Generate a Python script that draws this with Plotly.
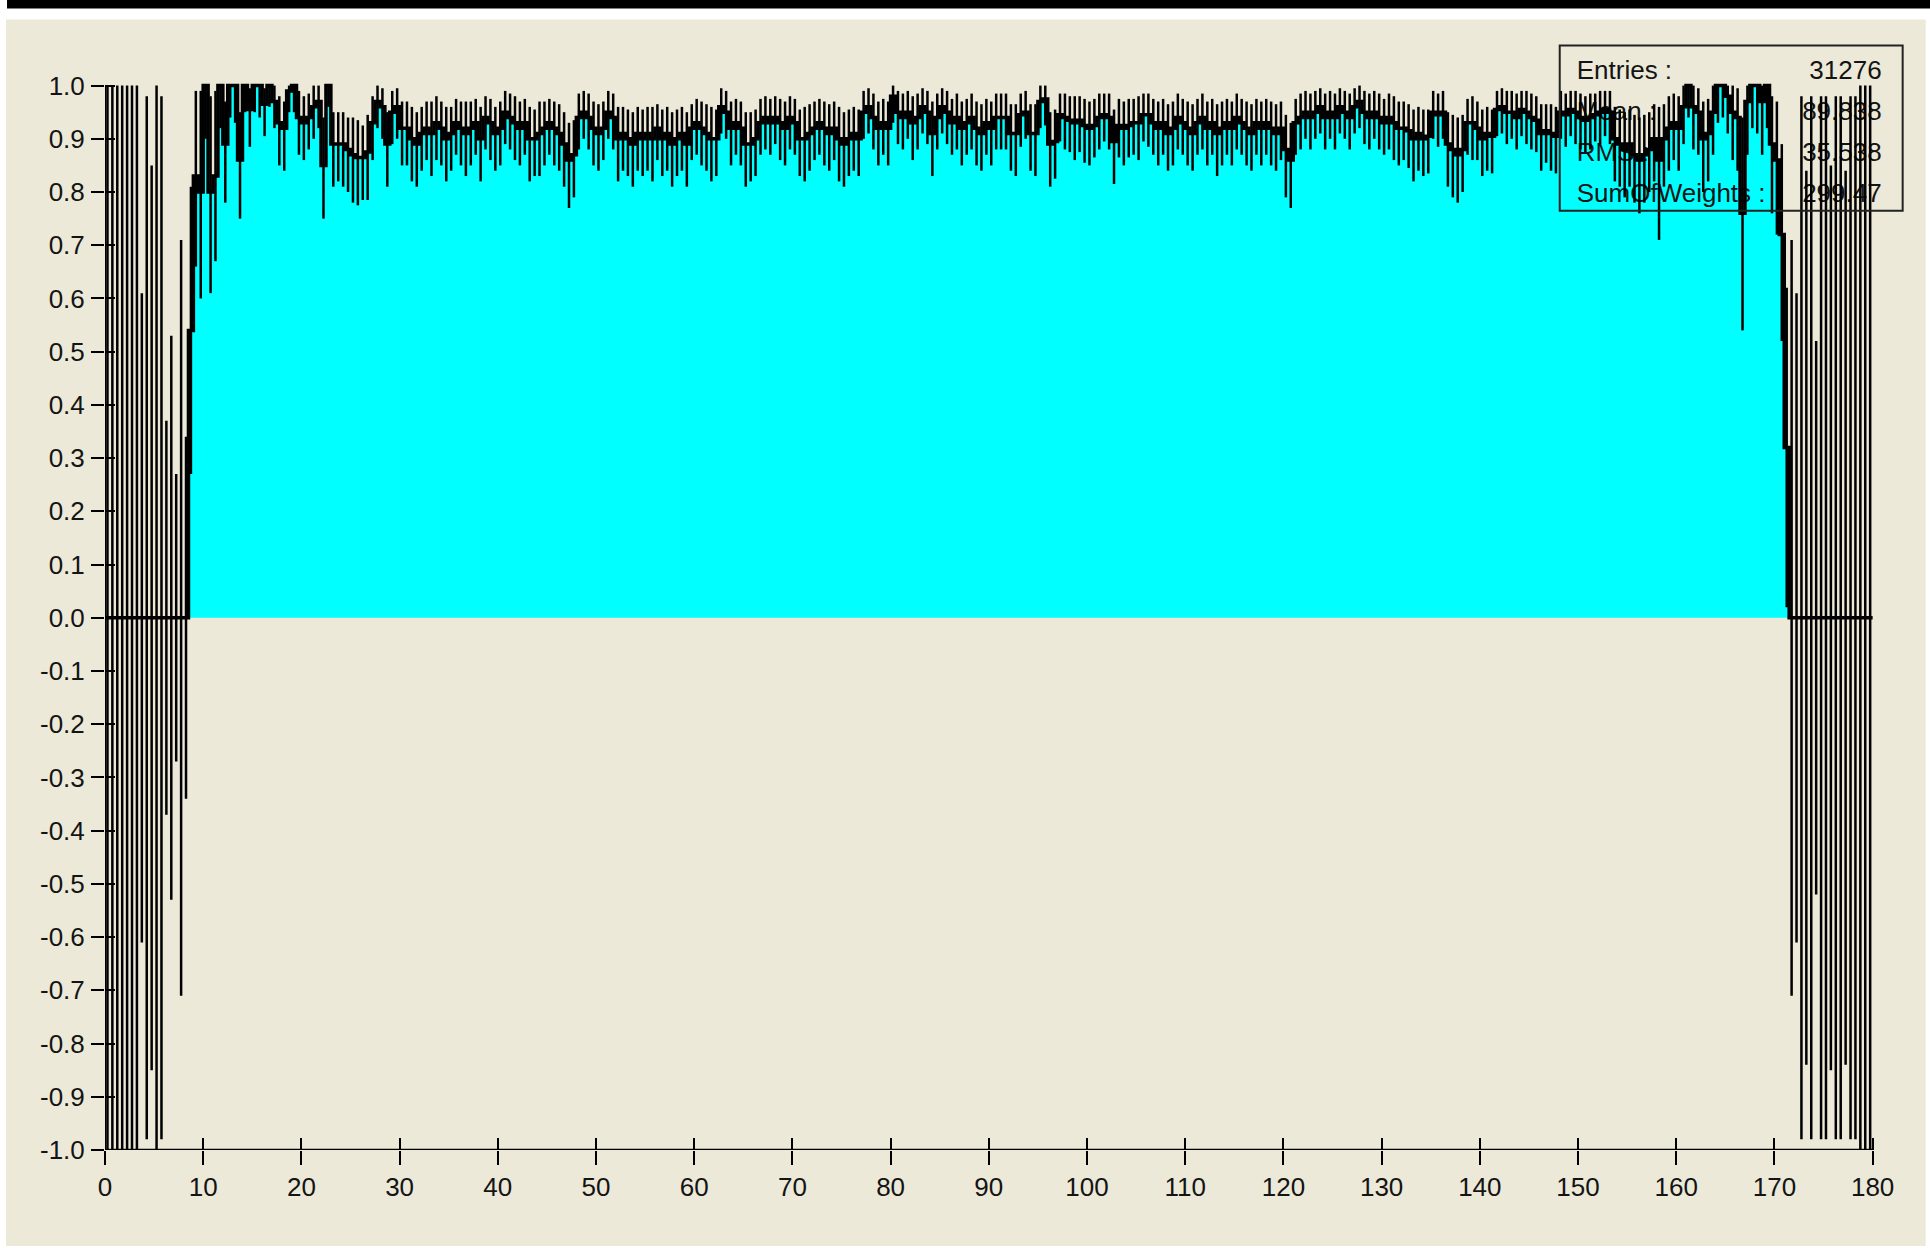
import numpy as np
import plotly.graph_objects as go

# ---------------- data ----------------
n_bins = 360
x_min, x_max = 0.0, 180.0

efficiency = [
    0, 0, 0, 0, 0, 0, 0, 0, 0, 0,
    0, 0, 0, 0, 0, 0, 0, 0.54, 0.83, 0.80,
    1.0, 0.80, 0.83, 1.0, 0.89, 1.0, 1.0, 0.86, 1.0, 0.955,
    1.0, 1.0, 0.965, 1.0, 0.97, 0.93, 0.92, 0.99, 1.0, 0.94,
    0.93, 0.94, 0.96, 0.97, 0.85, 1.0, 0.89, 0.89, 0.89, 0.88,
    0.87, 0.865, 0.865, 0.875, 0.93, 0.97, 0.96, 0.89, 0.95, 0.96,
    0.92, 0.92, 0.90, 0.89, 0.91, 0.92, 0.91, 0.93, 0.92, 0.90,
    0.91, 0.93, 0.92, 0.91, 0.92, 0.93, 0.90, 0.94, 0.93, 0.91,
    0.92, 0.95, 0.94, 0.93, 0.92, 0.93, 0.90, 0.90, 0.91, 0.92,
    0.93, 0.92, 0.91, 0.89, 0.86, 0.87, 0.94, 0.95, 0.94, 0.92,
    0.91, 0.92, 0.95, 0.94, 0.90, 0.91, 0.90, 0.89, 0.91, 0.90,
    0.91, 0.90, 0.92, 0.90, 0.91, 0.89, 0.90, 0.91, 0.89, 0.92,
    0.93, 0.92, 0.91, 0.90, 0.90, 0.96, 0.95, 0.92, 0.93, 0.92,
    0.89, 0.89, 0.90, 0.93, 0.94, 0.93, 0.94, 0.93, 0.92, 0.94,
    0.93, 0.90, 0.90, 0.91, 0.92, 0.93, 0.92, 0.91, 0.92, 0.90,
    0.89, 0.90, 0.91, 0.90, 0.95, 0.96, 0.94, 0.92, 0.93, 0.92,
    0.98, 0.95, 0.94, 0.95, 0.93, 0.94, 0.96, 0.95, 0.91, 0.94,
    0.96, 0.95, 0.93, 0.94, 0.92, 0.93, 0.94, 0.92, 0.91, 0.93,
    0.92, 0.94, 0.94, 0.94, 0.91, 0.91, 0.945, 0.95, 0.91, 0.91,
    0.97, 0.975, 0.89, 0.895, 0.945, 0.94, 0.935, 0.93, 0.935, 0.925,
    0.92, 0.925, 0.94, 0.945, 0.94, 0.895, 0.925, 0.92, 0.925, 0.93,
    0.93, 0.945, 0.945, 0.93, 0.92, 0.93, 0.91, 0.92, 0.94, 0.93,
    0.92, 0.91, 0.93, 0.94, 0.92, 0.93, 0.91, 0.92, 0.93, 0.92,
    0.94, 0.93, 0.92, 0.91, 0.93, 0.92, 0.93, 0.92, 0.91, 0.92,
    0.88, 0.86, 0.93, 0.94, 0.95, 0.94, 0.95, 0.96, 0.94, 0.95,
    0.94, 0.96, 0.95, 0.94, 0.96, 0.97, 0.95, 0.94, 0.95, 0.94,
    0.93, 0.94, 0.93, 0.92, 0.92, 0.915, 0.90, 0.91, 0.90, 0.905,
    0.95, 0.945, 0.95, 0.89, 0.88, 0.87, 0.88, 0.93, 0.93, 0.92,
    0.90, 0.91, 0.905, 0.955, 0.96, 0.95, 0.95, 0.94, 0.955, 0.95,
    0.94, 0.935, 0.91, 0.915, 0.91, 0.905, 0.95, 0.945, 0.955, 0.95,
    0.94, 0.935, 0.94, 0.945, 0.95, 0.955, 0.95, 0.90, 0.89, 0.88,
    0.89, 0.87, 0.86, 0.87, 0.88, 0.90, 0.86, 0.90, 0.92, 0.93,
    0.92, 0.96, 1.0, 0.96, 0.95, 0.90, 0.91, 0.95, 1.0, 1.0,
    0.98, 0.95, 0.94, 0.76, 0.97, 1.0, 1.0, 0.97, 1.0, 0.89,
    0.86, 0.72, 0.32, 0, 0, 0, 0, 0, 0, 0,
    0, 0, 0, 0, 0, 0, 0, 0, 0, 0,
]

err_low = [
    1, 1, 1, 1, 1, 1, 1, 0.61, 0.98, 0.85,
    1.0, 0.98, 0.37, 0.53, 0.27, 0.71, 0.34, 0.27, 0.17, 0.20,
    0.10, 0.19, 0.16, 0.08, 0.11, 0.06, 0.07, 0.11, 0.05, 0.07,
    0.05, 0.06, 0.06, 0.04, 0.05, 0.08, 0.08, 0.04, 0.05, 0.07,
    0.07, 0.06, 0.06, 0.05, 0.10, 0.04, 0.08, 0.07, 0.08, 0.08,
    0.09, 0.09, 0.08, 0.09, 0.07, 0.05, 0.06, 0.08, 0.06, 0.06,
    0.07, 0.07, 0.08, 0.08, 0.07, 0.06, 0.08, 0.07, 0.07, 0.08,
    0.07, 0.06, 0.07, 0.08, 0.07, 0.06, 0.08, 0.06, 0.07, 0.07,
    0.07, 0.06, 0.06, 0.07, 0.07, 0.06, 0.08, 0.07, 0.08, 0.07,
    0.06, 0.07, 0.07, 0.08, 0.09, 0.08, 0.06, 0.05, 0.06, 0.07,
    0.07, 0.06, 0.05, 0.06, 0.08, 0.07, 0.07, 0.08, 0.07, 0.07,
    0.07, 0.08, 0.06, 0.07, 0.07, 0.08, 0.07, 0.07, 0.08, 0.06,
    0.06, 0.07, 0.07, 0.08, 0.07, 0.05, 0.05, 0.07, 0.06, 0.07,
    0.08, 0.07, 0.07, 0.06, 0.06, 0.06, 0.05, 0.07, 0.07, 0.06,
    0.06, 0.07, 0.08, 0.07, 0.06, 0.06, 0.07, 0.07, 0.06, 0.08,
    0.08, 0.07, 0.07, 0.07, 0.05, 0.05, 0.06, 0.07, 0.06, 0.07,
    0.05, 0.06, 0.06, 0.05, 0.07, 0.06, 0.05, 0.06, 0.08, 0.06,
    0.05, 0.06, 0.06, 0.06, 0.07, 0.06, 0.06, 0.07, 0.07, 0.06,
    0.07, 0.06, 0.06, 0.06, 0.07, 0.08, 0.06, 0.05, 0.07, 0.08,
    0.05, 0.05, 0.08, 0.07, 0.05, 0.06, 0.06, 0.07, 0.06, 0.07,
    0.07, 0.06, 0.06, 0.05, 0.06, 0.08, 0.06, 0.07, 0.06, 0.06,
    0.07, 0.05, 0.06, 0.06, 0.07, 0.06, 0.07, 0.07, 0.06, 0.06,
    0.07, 0.07, 0.06, 0.06, 0.07, 0.06, 0.08, 0.07, 0.06, 0.07,
    0.06, 0.06, 0.07, 0.07, 0.06, 0.07, 0.06, 0.07, 0.07, 0.06,
    0.09, 0.09, 0.06, 0.06, 0.05, 0.06, 0.05, 0.05, 0.06, 0.05,
    0.06, 0.05, 0.05, 0.06, 0.05, 0.05, 0.06, 0.06, 0.05, 0.06,
    0.06, 0.06, 0.07, 0.07, 0.06, 0.07, 0.08, 0.07, 0.07, 0.07,
    0.05, 0.06, 0.05, 0.08, 0.09, 0.09, 0.08, 0.06, 0.07, 0.06,
    0.07, 0.07, 0.07, 0.05, 0.05, 0.06, 0.05, 0.06, 0.05, 0.06,
    0.06, 0.06, 0.07, 0.06, 0.07, 0.07, 0.05, 0.06, 0.05, 0.06,
    0.06, 0.06, 0.06, 0.05, 0.06, 0.05, 0.06, 0.08, 0.08, 0.09,
    0.08, 0.09, 0.10, 0.09, 0.08, 0.08, 0.15, 0.09, 0.08, 0.07,
    0.08, 0.07, 0.06, 0.08, 0.08, 0.10, 0.09, 0.08, 0.07, 0.06,
    0.07, 0.09, 0.10, 0.22, 0.10, 0.08, 0.09, 0.10, 0.08, 0.13,
    0.14, 0.20, 0.30, 0.71, 0.61, 0.98, 0.84, 0.98, 0.52, 0.98,
    0.98, 0.85, 0.98, 0.98, 0.84, 0.98, 0.98, 1.0, 1.0, 1.0,
]

err_high = [
    1, 1, 1, 1, 1, 1, 1, 0.61, 0.98, 0.85,
    1.0, 0.98, 0.37, 0.53, 0.27, 0.71, 0.34, 0.27, 0.16, 0.19,
    0, 0.18, 0.16, 0, 0.08, 0, 0, 0.09, 0, 0.04,
    0, 0, 0.03, 0, 0.03, 0.05, 0.05, 0.01, 0, 0.05,
    0.05, 0.045, 0.04, 0.03, 0.09, 0, 0.06, 0.06, 0.06, 0.06,
    0.07, 0.07, 0.06, 0.07, 0.05, 0.03, 0.035, 0.06, 0.04, 0.035,
    0.05, 0.05, 0.06, 0.06, 0.05, 0.05, 0.06, 0.05, 0.05, 0.06,
    0.05, 0.045, 0.05, 0.06, 0.05, 0.045, 0.06, 0.04, 0.045, 0.05,
    0.05, 0.04, 0.045, 0.05, 0.05, 0.045, 0.06, 0.055, 0.06, 0.05,
    0.045, 0.05, 0.055, 0.06, 0.07, 0.065, 0.045, 0.04, 0.045, 0.05,
    0.055, 0.05, 0.04, 0.045, 0.06, 0.05, 0.055, 0.06, 0.05, 0.055,
    0.05, 0.06, 0.045, 0.055, 0.05, 0.06, 0.055, 0.05, 0.06, 0.045,
    0.045, 0.05, 0.055, 0.06, 0.055, 0.035, 0.04, 0.05, 0.045, 0.05,
    0.06, 0.06, 0.055, 0.045, 0.04, 0.045, 0.04, 0.045, 0.05, 0.04,
    0.045, 0.055, 0.06, 0.055, 0.05, 0.045, 0.05, 0.055, 0.05, 0.06,
    0.06, 0.055, 0.05, 0.055, 0.04, 0.035, 0.045, 0.05, 0.045, 0.05,
    0.02, 0.04, 0.045, 0.04, 0.05, 0.045, 0.035, 0.04, 0.06, 0.045,
    0.035, 0.04, 0.045, 0.045, 0.05, 0.045, 0.045, 0.05, 0.055, 0.045,
    0.05, 0.045, 0.045, 0.045, 0.055, 0.055, 0.04, 0.04, 0.055, 0.055,
    0.03, 0.025, 0.06, 0.06, 0.04, 0.045, 0.045, 0.05, 0.045, 0.05,
    0.05, 0.05, 0.045, 0.04, 0.045, 0.06, 0.05, 0.05, 0.05, 0.045,
    0.05, 0.04, 0.04, 0.045, 0.05, 0.045, 0.055, 0.05, 0.045, 0.045,
    0.05, 0.055, 0.045, 0.045, 0.05, 0.045, 0.055, 0.05, 0.045, 0.05,
    0.045, 0.045, 0.05, 0.055, 0.045, 0.05, 0.045, 0.05, 0.055, 0.05,
    0.065, 0.07, 0.045, 0.045, 0.04, 0.045, 0.04, 0.035, 0.045, 0.04,
    0.045, 0.035, 0.04, 0.045, 0.035, 0.03, 0.04, 0.045, 0.04, 0.045,
    0.045, 0.045, 0.05, 0.05, 0.05, 0.05, 0.055, 0.05, 0.055, 0.05,
    0.04, 0.04, 0.04, 0.06, 0.065, 0.07, 0.065, 0.045, 0.05, 0.05,
    0.055, 0.05, 0.05, 0.035, 0.035, 0.04, 0.04, 0.045, 0.035, 0.04,
    0.045, 0.045, 0.055, 0.05, 0.055, 0.055, 0.04, 0.04, 0.035, 0.04,
    0.045, 0.045, 0.045, 0.04, 0.04, 0.035, 0.04, 0.06, 0.065, 0.07,
    0.065, 0.075, 0.08, 0.075, 0.07, 0.065, 0.10, 0.065, 0.06, 0.055,
    0.06, 0.04, 0.0, 0.04, 0.045, 0.07, 0.065, 0.05, 0.0, 0.0,
    0.02, 0.05, 0.055, 0.18, 0.03, 0.0, 0.0, 0.03, 0.0, 0.09,
    0.11, 0.17, 0.30, 0.71, 0.61, 0.98, 0.84, 0.98, 0.52, 0.98,
    0.98, 0.85, 0.98, 0.98, 0.84, 0.98, 0.98, 1.0, 1.0, 1.0,
]

stat_labels = ["Entries :", "Mean :", "RMS :", "SumOfWeights :"]
stat_values = ["31276", "89.838", "35.538", "299.47"]

x_ticks = [0, 10, 20, 30, 40, 50, 60, 70, 80, 90, 100, 110, 120, 130, 140, 150, 160, 170, 180]
y_ticks = [-1.0, -0.9, -0.8, -0.7, -0.6, -0.5, -0.4, -0.3, -0.2, -0.1, 0.0,
           0.1, 0.2, 0.3, 0.4, 0.5, 0.6, 0.7, 0.8, 0.9, 1.0]

# ---------------- geometry ----------------
W, H = 1930, 1248
PX_PER_DEG = 9.822          # horizontal scale of the original
PX_PER_UNIT = 532.0         # vertical scale of the original
X0_PX, YM1_PX = 105, 1150   # page pixel of x=0 and y=-1
x_lo, x_hi = 0.0, 183.5
y_lo, y_hi = -1.0, 1.08
L = X0_PX
B = H - YM1_PX
PW = (x_hi - x_lo) * PX_PER_DEG
PH = (y_hi - y_lo) * PX_PER_UNIT
R = W - L - PW
T = H - B - PH


def px_x(p):   # page pixel -> paper x
    return (p - L) / PW


def px_y(p):   # page pixel -> paper y
    return (H - B - p) / PH


def data_x(p):
    return x_lo + (p - L) / PW * (x_hi - x_lo)


def data_y(p):
    return y_hi - (p - T) / PH * (y_hi - y_lo)


eff = np.array(efficiency, dtype=float)
lo = np.array(err_low, dtype=float)
hi = np.minimum(np.array(err_high, dtype=float), 1.0 - eff)
edges = np.linspace(x_min, x_max, n_bins + 1)
centers = 0.5 * (edges[:-1] + edges[1:])
step_x = edges
step_y = np.append(eff, eff[-1])

BEIGE = "#ECE9D8"
CYAN = "#00FFFF"
INK = "#141414"
FONT = "Liberation Sans, Arial, sans-serif"

fig = go.Figure()

# cyan filled histogram area
fig.add_trace(go.Scatter(
    x=step_x, y=step_y, mode="lines", line=dict(width=0, shape="hv"),
    fill="tozeroy", fillcolor=CYAN, hoverinfo="skip", showlegend=False,
))

# statistics text (drawn under the histogram outline / error bars as in the original)
row_px = [73, 114, 155, 196]
fig.add_trace(go.Scatter(
    x=[data_x(1577)] * 4, y=[data_y(p) for p in row_px], mode="text",
    text=stat_labels, textposition="middle right", cliponaxis=False,
    textfont=dict(family=FONT, size=26, color=INK),
    hoverinfo="skip", showlegend=False,
))
fig.add_trace(go.Scatter(
    x=[data_x(1882)] * 4, y=[data_y(p) for p in row_px], mode="text",
    text=stat_values, textposition="middle left", cliponaxis=False,
    textfont=dict(family=FONT, size=26, color=INK),
    hoverinfo="skip", showlegend=False,
))

# black step outline
fig.add_trace(go.Scatter(
    x=step_x, y=step_y, mode="lines", line=dict(width=3.5, color="black", shape="hv"),
    hoverinfo="skip", showlegend=False,
))

# error bars
fig.add_trace(go.Scatter(
    x=centers, y=eff, mode="markers", marker=dict(size=1, color="black"),
    error_y=dict(type="data", symmetric=False, array=hi, arrayminus=lo,
                 color="black", thickness=2.5, width=0),
    hoverinfo="skip", showlegend=False,
))

# dummy trace for overlay axes (inner tick marks)
fig.add_trace(go.Scatter(x=[None], y=[None], xaxis="x2", yaxis="y2",
                         hoverinfo="skip", showlegend=False))

shapes = [
    # beige panel
    dict(type="rect", xref="paper", yref="paper", layer="below",
         x0=px_x(6), x1=px_x(1926), y0=px_y(1246), y1=px_y(20),
         fillcolor=BEIGE, line=dict(width=0)),
    # black bar at top
    dict(type="rect", xref="paper", yref="paper", layer="above",
         x0=px_x(7), x1=px_x(1935), y0=px_y(9), y1=px_y(-5),
         fillcolor="black", line=dict(width=0)),
    # stats box frame
    dict(type="rect", xref="paper", yref="paper", layer="above",
         x0=px_x(1560), x1=px_x(1903), y0=px_y(211), y1=px_y(46),
         fillcolor="rgba(0,0,0,0)", line=dict(width=2, color="#222")),
    # axis lines (only over the 0..180 / -1..1 span)
    dict(type="line", xref="x", yref="y", layer="above",
         x0=x_min, x1=x_max, y0=-1.0, y1=-1.0, line=dict(width=2.5, color="black")),
    dict(type="line", xref="x", yref="y", layer="above",
         x0=x_min, x1=x_min, y0=-1.0, y1=1.0, line=dict(width=2.5, color="black")),
]

axis_common = dict(showgrid=False, zeroline=False, showline=False)
fig.update_layout(
    width=W, height=H, autosize=False,
    margin=dict(l=L, r=R, t=T, b=B, pad=0),
    paper_bgcolor="white", plot_bgcolor="rgba(0,0,0,0)",
    showlegend=False,
    font=dict(family=FONT, size=26, color=INK),
    xaxis=dict(range=[x_lo, x_hi], tickvals=x_ticks,
               ticktext=[str(v) for v in x_ticks],
               ticks="outside", ticklen=14, tickwidth=2, tickcolor="black",
               ticklabelstandoff=0,
               tickfont=dict(family=FONT, size=26, color=INK),
               **axis_common),
    yaxis=dict(range=[y_lo, y_hi], tickvals=y_ticks,
               ticktext=[f"{v:.1f}" for v in y_ticks],
               ticks="outside", ticklen=13, tickwidth=2, tickcolor="black",
               ticklabelstandoff=1,
               tickfont=dict(family=FONT, size=26, color=INK),
               **axis_common),
    xaxis2=dict(range=[x_lo, x_hi], overlaying="x", anchor="y2",
                tickvals=x_ticks, ticks="inside", ticklen=12, tickwidth=2,
                tickcolor="black", showticklabels=False, **axis_common),
    yaxis2=dict(range=[y_lo, y_hi], overlaying="y", anchor="x2",
                tickvals=y_ticks, ticks="inside", ticklen=10, tickwidth=2,
                tickcolor="black", showticklabels=False, **axis_common),
    shapes=shapes,
)

fig.write_html(
    "out.html",
    config={"displayModeBar": False},
    post_script="document.body.style.margin='0';document.body.style.overflow='hidden';",
)
